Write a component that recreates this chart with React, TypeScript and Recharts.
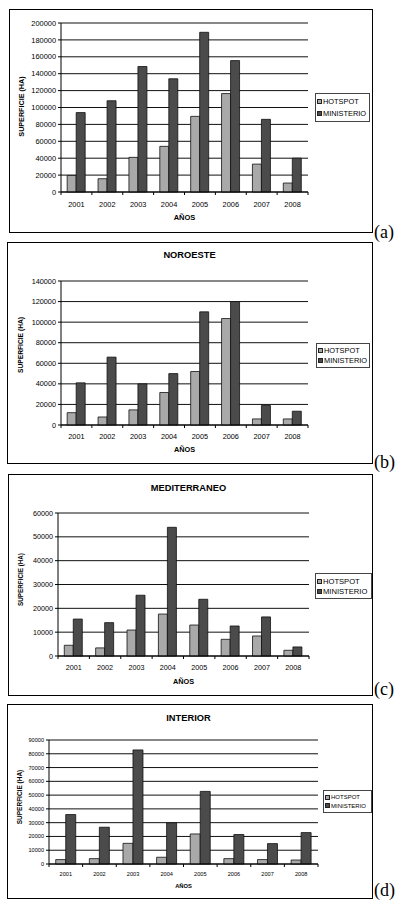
import { Bar, BarChart, CartesianGrid, XAxis, YAxis } from "recharts";

const years = ["2001", "2002", "2003", "2004", "2005", "2006", "2007", "2008"];

// superficie quemada (ha) por año, detectada por satélite vs. estadística oficial
const totalHotspot = [19600, 15700, 41000, 54000, 89500, 116500, 33000, 10600];
const totalMinisterio = [94000, 108000, 148500, 134000, 189000, 155500, 86000, 40000];
const noroesteHotspot = [12000, 7800, 14700, 31600, 52000, 103500, 5900, 5900];
const noroesteMinisterio = [41000, 66000, 40000, 50000, 110000, 120000, 19000, 13400];
const mediterraneoHotspot = [4500, 3400, 10900, 17600, 13000, 7000, 8400, 2400];
const mediterraneoMinisterio = [15500, 14000, 25500, 54000, 23800, 12600, 16400, 3800];
const interiorHotspot = [3200, 3900, 15000, 4900, 21800, 3900, 3200, 2900];
const interiorMinisterio = [35900, 26700, 82800, 29900, 52700, 21400, 14800, 22800];

const ticksTotal = [0, 20000, 40000, 60000, 80000, 100000, 120000, 140000, 160000, 180000, 200000];
const ticksNoroeste = [0, 20000, 40000, 60000, 80000, 100000, 120000, 140000];
const ticksMediterraneo = [0, 10000, 20000, 30000, 40000, 50000, 60000];
const ticksInterior = [0, 10000, 20000, 30000, 40000, 50000, 60000, 70000, 80000, 90000];

const HOT = "#a9a9a9";
const MIN = "#4b4b4b";
const FONT = "Arial, 'Liberation Sans', sans-serif";

type Box = { l: number; t: number; r: number; b: number };

type PanelSpec = {
  tag: string;
  tagBase: number;
  title?: string;
  titleY?: number;
  box: Box;
  plot: Box;
  legend: Box;
  legendFont: number;
  tickFont: number;
  yLabelFont: number;
  yLabelX: number;
  yLabelShift: number;
  xTitleFont: number;
  xTickDy: number;
  xTitleDy: number;
  hotspot: number[];
  ministerio: number[];
  ticks: number[];
};

function PanelChart({ p }: { p: PanelSpec }) {
  const ox = p.box.l + 1;
  const oy = p.box.t + 1;
  const width = p.box.r - p.box.l - 1;
  const height = p.box.b - p.box.t - 1;
  const yAxisW = p.plot.l - ox - 3;
  const xAxisH = 28;
  const margin = {
    left: p.plot.l - ox - yAxisW,
    right: p.box.r - p.plot.r,
    top: p.plot.t - oy,
    bottom: p.box.b - p.plot.b - xAxisH,
  };
  const band = (p.plot.r - p.plot.l) / years.length;
  const rows = years.map((year, i) => ({
    year,
    HOTSPOT: p.hotspot[i],
    MINISTERIO: p.ministerio[i],
  }));

  const yearTick = (t: any) => {
    const left = t.x - band / 2;
    return (
      <g key={`t-${t.index}`}>
        <line x1={left} y1={t.y} x2={left} y2={t.y + 3} stroke="#000" />
        {t.index === years.length - 1 && (
          <line x1={t.x + band / 2} y1={t.y} x2={t.x + band / 2} y2={t.y + 3} stroke="#000" />
        )}
        <text
          x={t.x}
          y={t.y + p.xTickDy}
          textAnchor="middle"
          dominantBaseline="central"
          fontSize={p.tickFont}
          fontFamily={FONT}
          fill="#000"
        >
          {t.payload.value}
        </text>
      </g>
    );
  };

  const yTitle = (lp: any) => {
    const vb = lp.viewBox;
    const x = p.yLabelX - ox;
    const y = vb.y + vb.height / 2 + p.yLabelShift;
    return (
      <text
        x={x}
        y={y}
        transform={`rotate(-90 ${x} ${y})`}
        textAnchor="middle"
        dominantBaseline="central"
        fontSize={p.yLabelFont}
        fontWeight="bold"
        fontFamily={FONT}
        fill="#000"
      >
        SUPERFICIE (HA)
      </text>
    );
  };

  const xTitle = (lp: any) => {
    const vb = lp.viewBox;
    return (
      <text
        x={vb.x + vb.width / 2}
        y={vb.y + p.xTitleDy}
        textAnchor="middle"
        dominantBaseline="central"
        fontSize={p.xTitleFont}
        fontWeight="bold"
        fontFamily={FONT}
        fill="#000"
      >
        AÑOS
      </text>
    );
  };

  const legendRow = (name: string, color: string) => (
    <div style={{ display: "flex", alignItems: "center", height: "50%" }}>
      <span
        style={{
          width: 3,
          height: 3,
          background: color,
          border: "1px solid #222",
          marginRight: 1,
          flex: "none",
        }}
      />
      <span>{name}</span>
    </div>
  );

  return (
    <>
      <div
        style={{
          position: "absolute",
          left: p.box.l,
          top: p.box.t,
          width: p.box.r - p.box.l + 1,
          height: p.box.b - p.box.t + 1,
          border: "1px solid #000",
          boxSizing: "border-box",
        }}
      >
        <BarChart
          width={width}
          height={height}
          data={rows}
          margin={margin}
          barCategoryGap="20%"
          barGap={0}
        >
          <CartesianGrid vertical={false} stroke="#111" />
          <XAxis
            dataKey="year"
            height={xAxisH}
            interval={0}
            tickLine={false}
            tickSize={0}
            tickMargin={0}
            axisLine={{ stroke: "#000" }}
            tick={yearTick}
            label={{ content: xTitle }}
          />
          <YAxis
            width={yAxisW}
            domain={[0, p.ticks[p.ticks.length - 1]]}
            ticks={p.ticks}
            interval={0}
            tickSize={3}
            tickMargin={2}
            tickLine={{ stroke: "#000" }}
            axisLine={{ stroke: "#000" }}
            tick={{ fontSize: p.tickFont, fill: "#000", fontFamily: FONT }}
            label={{ content: yTitle }}
          />
          <Bar dataKey="HOTSPOT" fill={HOT} stroke="#111" strokeWidth={0.8} isAnimationActive={false} />
          <Bar dataKey="MINISTERIO" fill={MIN} stroke="#111" strokeWidth={0.8} isAnimationActive={false} />
        </BarChart>
      </div>
      {p.title && (
        <div
          style={{
            position: "absolute",
            left: (p.plot.l + p.plot.r) / 2 - 100 + 5,
            width: 200,
            top: (p.titleY ?? 0) - 6,
            lineHeight: "12px",
            textAlign: "center",
            fontFamily: FONT,
            fontWeight: "bold",
            fontSize: 9.3,
          }}
        >
          {p.title}
        </div>
      )}
      <div
        style={{
          position: "absolute",
          left: p.legend.l,
          top: p.legend.t,
          width: p.legend.r - p.legend.l + 1,
          height: p.legend.b - p.legend.t + 1,
          border: "1px solid #444",
          boxSizing: "border-box",
          padding: "2px 0 2px 1px",
          fontFamily: FONT,
          fontSize: p.legendFont,
          whiteSpace: "nowrap",
          background: "#fff",
        }}
      >
        {legendRow("HOTSPOT", HOT)}
        {legendRow("MINISTERIO", MIN)}
      </div>
      <div
        style={{
          position: "absolute",
          left: 374,
          top: p.tagBase - 15,
          lineHeight: "18px",
          fontFamily: "'Times New Roman', 'Liberation Serif', serif",
          fontSize: 18,
        }}
      >
        {p.tag}
      </div>
    </>
  );
}

const panels: PanelSpec[] = [
  {
    tag: "(a)",
    tagBase: 238,
    box: { l: 9, t: 9, r: 372, b: 232 },
    plot: { l: 61, t: 23, r: 308, b: 192 },
    legend: { l: 315, t: 93, r: 369, b: 121 },
    legendFont: 7.4,
    tickFont: 7.4,
    yLabelFont: 7.2,
    yLabelX: 21,
    yLabelShift: -1,
    xTitleFont: 7.5,
    xTickDy: 12,
    xTitleDy: 25,
    hotspot: totalHotspot,
    ministerio: totalMinisterio,
    ticks: ticksTotal,
  },
  {
    tag: "(b)",
    tagBase: 468,
    title: "NOROESTE",
    titleY: 255,
    box: { l: 7, t: 242, r: 372, b: 463 },
    plot: { l: 61, t: 281, r: 308, b: 425 },
    legend: { l: 316, t: 343, r: 369, b: 367 },
    legendFont: 7.4,
    tickFont: 7.3,
    yLabelFont: 6.7,
    yLabelX: 20,
    yLabelShift: -8,
    xTitleFont: 7.3,
    xTickDy: 11,
    xTitleDy: 24,
    hotspot: noroesteHotspot,
    ministerio: noroesteMinisterio,
    ticks: ticksNoroeste,
  },
  {
    tag: "(c)",
    tagBase: 695,
    title: "MEDITERRANEO",
    titleY: 488,
    box: { l: 8, t: 474, r: 372, b: 695 },
    plot: { l: 58, t: 513, r: 309, b: 656 },
    legend: { l: 315, t: 573, r: 371, b: 598 },
    legendFont: 7.6,
    tickFont: 7.2,
    yLabelFont: 6.3,
    yLabelX: 20,
    yLabelShift: -5,
    xTitleFont: 7.3,
    xTickDy: 11.7,
    xTitleDy: 25.5,
    hotspot: mediterraneoHotspot,
    ministerio: mediterraneoMinisterio,
    ticks: ticksMediterraneo,
  },
  {
    tag: "(d)",
    tagBase: 896,
    title: "INTERIOR",
    titleY: 718,
    box: { l: 7, t: 704, r: 372, b: 898 },
    plot: { l: 49, t: 740, r: 318, b: 864 },
    legend: { l: 323, t: 790, r: 371, b: 812 },
    legendFont: 6,
    tickFont: 5.6,
    yLabelFont: 6.5,
    yLabelX: 19,
    yLabelShift: -5,
    xTitleFont: 5.8,
    xTickDy: 10.3,
    xTitleDy: 22,
    hotspot: interiorHotspot,
    ministerio: interiorMinisterio,
    ticks: ticksInterior,
  },
];

export default function App() {
  return (
    <div
      style={{
        position: "absolute",
        left: 0,
        top: 0,
        width: 400,
        height: 902,
        background: "#fff",
        overflow: "hidden",
      }}
    >
      {panels.map((p) => (
        <PanelChart key={p.tag} p={p} />
      ))}
    </div>
  );
}
